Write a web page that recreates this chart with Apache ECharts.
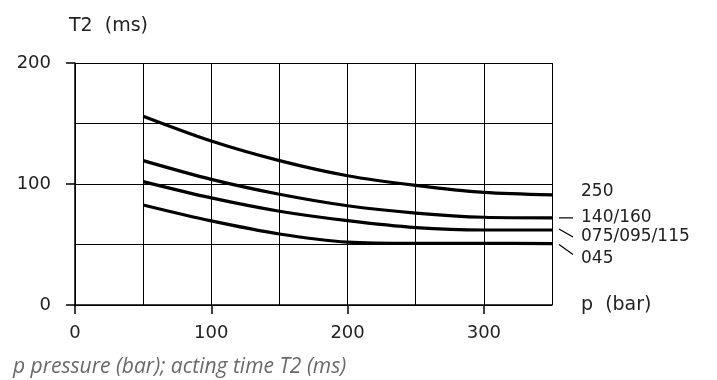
<!DOCTYPE html>
<html>
<head>
<meta charset="utf-8">
<script src="https://cdn.jsdelivr.net/npm/echarts@6/dist/echarts.min.js"></script>
<style>
  html, body { margin: 0; padding: 0; background: #fff; }
  #chart { width: 717px; height: 380px; }
</style>
</head>
<body>
<div id="chart"></div>
<script>
// pressure p (bar) and acting time T2 (ms) per size group
const pressure = [50, 100, 150, 200, 250, 300, 350];
const t250 = [156, 135.5, 119.3, 106.8, 98.8, 93, 91];
const t140 = [119.3, 103.8, 91.5, 82, 76, 72.5, 72];
const t075 = [102, 88.5, 77.5, 69.7, 64, 62, 62];
const t045 = [82.7, 69.5, 58.7, 52, 51, 51, 50.8];
const seriesNames = ['250', '140/160', '075/095/115', '045'];
const seriesData = [t250, t140, t075, t045];
const xTicks = [0, 100, 200, 300];
const yTicks = [0, 100, 200];

const font = 'DejaVu Sans';
const black = '#000';
const textColor = '#222';
const chart = echarts.init(document.getElementById('chart'));

const option = {
    animation: false,
    title: [{
        text: 'T2  (ms)',
        left: 64, top: 12,
        textStyle: { fontFamily: font, fontSize: 19, fontWeight: 'normal', color: textColor }
    }, {
        text: 'p pressure (bar); acting time T2 (ms)',
        left: 8, top: 352,
        textStyle: { fontFamily: 'Open Sans', fontSize: 21, fontStyle: 'italic', fontWeight: 'normal', color: '#6a6a6a' }
    }],
    grid: { left: 75, right: 165, top: 63, bottom: 75 },
    xAxis: [{
        // grid lines every 50 bar
        type: 'value', min: 0, max: 350, interval: 50,
        axisLine: { lineStyle: { color: black, width: 1.5 } },
        axisTick: { show: false },
        axisLabel: { show: false },
        splitLine: { show: true, lineStyle: { color: black, width: 1 } }
    }, {
        // ticks and labels every 100 bar
        type: 'value', min: 0, max: 350, position: 'bottom',
        name: 'p  (bar)', nameLocation: 'end', nameGap: 29,
        nameTextStyle: { fontFamily: font, fontSize: 19, color: textColor, align: 'left', verticalAlign: 'middle', padding: [0, 0, 10, 0] },
        axisLine: { show: false },
        axisTick: { show: true, length: 9, customValues: xTicks, lineStyle: { color: black, width: 1.5 } },
        axisLabel: { customValues: xTicks, margin: 19, fontFamily: font, fontSize: 18, color: textColor },
        splitLine: { show: false }
    }],
    yAxis: [{
        type: 'value', min: 0, max: 200, interval: 50,
        axisLine: { show: true, lineStyle: { color: black, width: 1.5 } },
        axisTick: { show: false },
        axisLabel: { show: false },
        splitLine: { show: true, lineStyle: { color: black, width: 1 } }
    }, {
        type: 'value', min: 0, max: 200, position: 'left',
        axisLine: { show: false },
        axisTick: { show: true, length: 9, customValues: yTicks, lineStyle: { color: black, width: 1.5 } },
        axisLabel: { customValues: yTicks, margin: 24, fontFamily: font, fontSize: 18, color: textColor },
        splitLine: { show: false }
    }],
    series: seriesNames.map((name, i) => ({
        name: name,
        type: 'line',
        xAxisIndex: 0,
        yAxisIndex: 0,
        smooth: 0.3,
        showSymbol: false,
        lineStyle: { color: black, width: 3.2 },
        data: pressure.map((p, j) => [p, seriesData[i][j]])
    }))
};
chart.setOption(option);

// right-hand labels with short leader lines, placed from the curve end points
const labelOffsets = [-3, 0, 7, 15];
const leaders = [null, [0, 0], [-1, 7], [1, 11]];
const graphics = [];
seriesNames.forEach((name, i) => {
    const vals = seriesData[i];
    const end = chart.convertToPixel({ xAxisIndex: 0, yAxisIndex: 0 }, [pressure[pressure.length - 1], vals[vals.length - 1]]);
    graphics.push({
        type: 'text', x: end[0] + 29, y: end[1] + labelOffsets[i],
        style: { text: name, font: '17px "DejaVu Sans"', fill: textColor, verticalAlign: 'middle' }
    });
    if (leaders[i]) {
        graphics.push({
            type: 'line',
            shape: { x1: end[0] + 7, y1: end[1] + leaders[i][0], x2: end[0] + 21, y2: end[1] + leaders[i][1] },
            style: { stroke: black, lineWidth: 1.2 }
        });
    }
});
chart.setOption({ graphic: graphics });
</script>
</body>
</html>
